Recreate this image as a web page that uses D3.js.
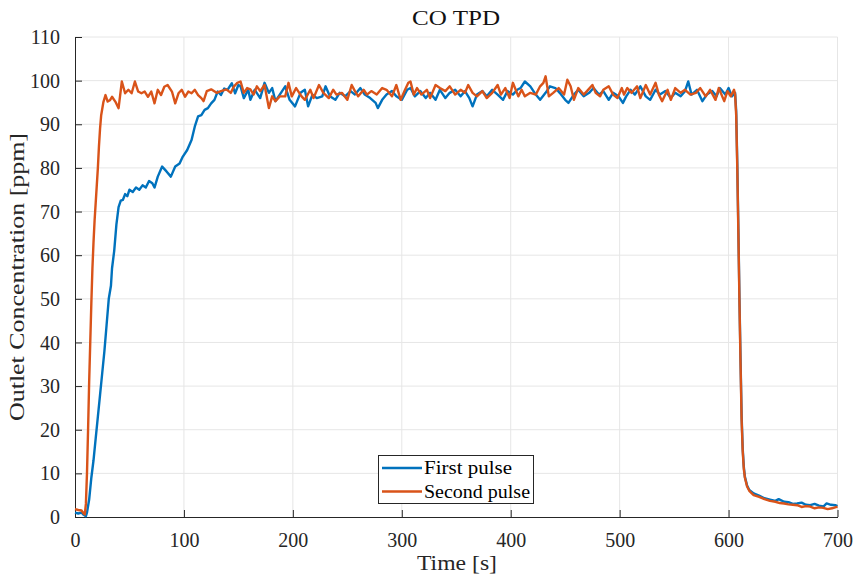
<!DOCTYPE html>
<html><head><meta charset="utf-8">
<script src="https://cdn.jsdelivr.net/npm/d3@7"></script>
<style>html,body{margin:0;padding:0;background:#fff}svg{display:block}</style>
</head><body>
<script>
const title = "CO TPD";
const xLabel = "Time [s]";
const yLabel = "Outlet Concentration [ppm]";
const seriesNames = ["First pulse", "Second pulse"];
const xTicks = [0,100,200,300,400,500,600,700];
const yTicks = [0,10,20,30,40,50,60,70,80,90,100,110];

const firstTime = [0,3,6,8,10,11,13,15,17,19,21,23,25,27,29,31,33,34,36,38,40,42,44,46,48,50,53,56,59,62,65,68,71,73,76,80,84,88,92,96,99,103,107,110,113,116,119,122,125,128,131,134,137,140,144,147,150,152,155,159,161,165,170,174,178,181,184,188,193,197,202,207,211,214,218,222,227,230,234,239,243,248,253,257,262,266,271,276,278,282,286,291,295,300,305,308,312,317,322,326,331,335,340,344,349,354,358,362,365,369,374,378,383,388,393,397,402,406,409,413,418,423,427,432,436,441,445,450,453,458,462,467,472,476,481,485,490,494,499,503,506,510,514,519,524,528,533,537,542,547,551,556,560,563,566,571,576,580,585,589,592,597,600,603,606,607,608,609,610,611,612,613,614,615,617,619,623,628,633,638,643,646,651,655,659,663,667,671,675,679,683,687,690,694,698,700];
const firstValue = [1.0,0.8,1.0,0.5,0.2,1.0,4,9,13,18,23,28,33,38,44,50,53,57,61,67,71,72.5,72.7,74,73.5,75,74.5,75.5,75,76,75.5,77,76.5,75.5,78,80.3,79.2,78,80.3,81,82.6,84.1,86.4,89.5,91.8,92.1,93.3,93.7,94.8,95.6,97.5,96.7,98.2,97.9,99.4,97.1,99,98.7,96,97.9,95.6,97.9,96,99.5,97.2,98.3,95.3,96.8,98.7,95.6,94.1,97.2,97.9,94.1,96.8,96,96.4,98.7,96.4,95.6,97.2,96.4,97.6,96.8,98.3,96.8,96,94.9,93.7,95.6,96.8,97.6,96.4,95.6,97.9,98.3,96.4,97.6,96,97.2,95.6,97.9,96,97.2,97.9,96.4,97.6,96,94.1,96.8,97.6,96.4,97.9,96.8,95.6,97.6,96.8,97.9,98.3,99.8,98.7,96.8,95.6,97.2,98.7,98.3,97.2,95.6,94.9,96.8,97.9,96.4,97.2,98.3,96.8,97.6,95.6,97.2,96.4,94.9,96.4,97.9,96.8,98.7,96.4,95.6,97.9,96.8,97.6,96,97.2,96.4,97.6,99.8,96.8,97.9,95.3,96.8,97.6,96.4,98.3,96.8,98.3,96.4,97.2,93,81,66,50,36,23,15.5,11.5,9.2,7.2,6.2,5.4,4.9,4.3,4.0,3.7,4.1,3.5,3.4,3.0,3.1,3.3,2.8,2.7,3.0,2.6,2.4,3.1,2.8,2.7,2.5];

const secondTime = [0,3,6,8,9,10,11,12,13,14,15,16,17,18,19,20,21,22,23,24,26,28,30,32,34,37,40,43,46,49,52,55,58,61,64,67,70,73,76,79,82,85,89,92,95,98,101,104,107,110,113,116,118,121,125,130,134,139,143,146,149,152,155,158,161,164,167,170,174,178,181,184,188,193,196,199,203,208,211,216,219,224,228,233,237,240,245,250,254,257,260,265,268,272,277,282,286,291,295,299,303,306,308,311,314,318,323,326,331,335,340,344,349,354,358,361,365,369,374,378,383,388,391,395,399,402,407,410,413,418,423,427,430,432,435,439,444,449,452,455,458,462,467,470,475,478,482,485,490,494,498,502,504,507,511,516,519,524,528,533,536,539,544,547,551,556,560,565,570,574,579,583,588,591,596,599,602,605,606,607,608,609,610,611,612,613,614,615,617,619,623,628,633,638,643,647,651,655,659,663,667,671,675,679,683,687,691,695,700];
const secondValue = [1.8,1.6,1.5,0.8,0.6,3,10,20,31,40,49,57,63,68,72,76,80,85,89,92,95,96.7,95.2,95.5,96.3,95.2,93.7,99.8,97.1,97.9,97.1,99.8,97.5,97.1,97.5,96.3,97.5,94.8,97.9,96.7,98.6,99,97.5,94.8,97.1,97.9,96.3,97.5,97.1,97.9,96.7,96,95.3,97.6,98,97.2,97.6,98,97.2,98.7,99.5,99.8,97.2,98.3,98,96.8,98.7,97.6,99,93.7,96.4,95.3,96.4,96.4,99.5,96.4,98.3,96.4,95.6,97.9,96,99,97.2,96,97.9,96.8,97.2,95.6,99,97.6,96.4,97.9,96.8,97.6,96.8,98.3,97.9,96.4,99,95.6,97.9,99.5,99.8,96.8,98.3,96.8,97.9,96,99,98.3,97.6,98.7,96.8,97.9,97.2,99,97.2,96.4,97.6,96,97.2,99,96.8,98.3,96,99.5,96.4,97.9,96.4,97.2,96.8,98.7,99.5,101,96.4,97.2,98.3,96.8,100.2,98.7,95.6,98.3,96.8,97.6,99,97.2,96.4,97.9,98.7,96.8,96,98.3,96.8,98.3,97.2,98.7,96,99,96.8,99.5,96.8,95.3,97.9,95.6,98.3,97.2,97.9,96.8,97.2,98.3,96.4,97.9,95.6,98.3,95.3,97.6,96.4,97.9,96.8,92,80,65,49,35,22,15,11,9,7,6,5,4.6,4.1,3.7,3.5,3.2,3.1,2.9,2.8,2.7,2.3,2.5,2.4,2.0,2.2,2.1,1.8,2.0,2.4];

const colors = ["#0072BD", "#D95319"];
const W = 854, H = 575;
const m = {left: 75, right: 837.5, top: 37, bottom: 517};
const font = "'Liberation Serif', 'Times New Roman', serif";
const ink = "#262626";

const svg = d3.select("body").append("svg").attr("width", W).attr("height", H);
const x = d3.scaleLinear().domain([0, 700]).range([m.left, m.right]);
const y = d3.scaleLinear().domain([0, 110]).range([m.bottom, m.top]);

// grid
svg.append("g").selectAll("line").data(xTicks.filter(d => d > 0)).join("line")
  .attr("x1", d => x(d)).attr("x2", d => x(d)).attr("y1", m.top).attr("y2", m.bottom)
  .attr("stroke", "#e6e6e6").attr("stroke-width", 1);
svg.append("g").selectAll("line").data(yTicks.filter(d => d > 0)).join("line")
  .attr("y1", d => y(d)).attr("y2", d => y(d)).attr("x1", m.left).attr("x2", m.right)
  .attr("stroke", "#e6e6e6").attr("stroke-width", 1);

// axes
const xAxis = d3.axisBottom(x).tickValues(xTicks).tickSizeInner(-7).tickSizeOuter(0).tickPadding(16);
const yAxis = d3.axisLeft(y).tickValues(yTicks).tickSizeInner(-7).tickSizeOuter(0).tickPadding(15);
const gx = svg.append("g").attr("transform", `translate(0,${m.bottom})`).call(xAxis);
const gy = svg.append("g").attr("transform", `translate(${m.left},0)`).call(yAxis);
[gx, gy].forEach(g => {
  g.select(".domain").attr("stroke", ink).attr("stroke-width", 1);
  g.selectAll(".tick line").attr("stroke", ink);
  g.selectAll(".tick text").attr("fill", ink).style("font-family", font).style("font-size", "20px");
});
gy.selectAll(".tick text").attr("dy", "0.33em");

// lines
const line = d3.line().x(d => x(d[0])).y(d => y(d[1]));
const series = [
  d3.zip(firstTime, firstValue),
  d3.zip(secondTime, secondValue)
];
series.forEach((s, i) => {
  svg.append("path").datum(s).attr("d", line)
    .attr("fill", "none").attr("stroke", colors[i]).attr("stroke-width", 2.4)
    .attr("stroke-linejoin", "round");
});

// titles
svg.append("text").attr("x", 456).attr("y", 25).attr("text-anchor", "middle")
  .attr("fill", "#111").style("font-family", font).style("font-size", "21px")
  .attr("textLength", 88).attr("lengthAdjust", "spacingAndGlyphs").text(title);
svg.append("text").attr("x", 457).attr("y", 570).attr("text-anchor", "middle")
  .attr("fill", ink).style("font-family", font).style("font-size", "22px")
  .attr("textLength", 80).attr("lengthAdjust", "spacingAndGlyphs").text(xLabel);
svg.append("text").attr("transform", "translate(24,277) rotate(-90)").attr("text-anchor", "middle")
  .attr("fill", ink).style("font-family", font).style("font-size", "22px")
  .attr("textLength", 288).attr("lengthAdjust", "spacingAndGlyphs").text(yLabel);

// legend
const lg = svg.append("g");
lg.append("rect").attr("x", 378.5).attr("y", 455.5).attr("width", 155).attr("height", 48)
  .attr("fill", "#fff").attr("stroke", ink).attr("stroke-width", 1);
seriesNames.forEach((n, i) => {
  const yy = 468 + i * 23.5;
  lg.append("line").attr("x1", 382).attr("x2", 422).attr("y1", yy).attr("y2", yy)
    .attr("stroke", colors[i]).attr("stroke-width", 2.4);
  lg.append("text").attr("x", 424).attr("y", yy + 6).attr("fill", "#000")
    .style("font-family", font).style("font-size", "18px")
    .attr("textLength", i === 0 ? 88 : 106).attr("lengthAdjust", "spacingAndGlyphs").text(n);
});
</script>
</body></html>
